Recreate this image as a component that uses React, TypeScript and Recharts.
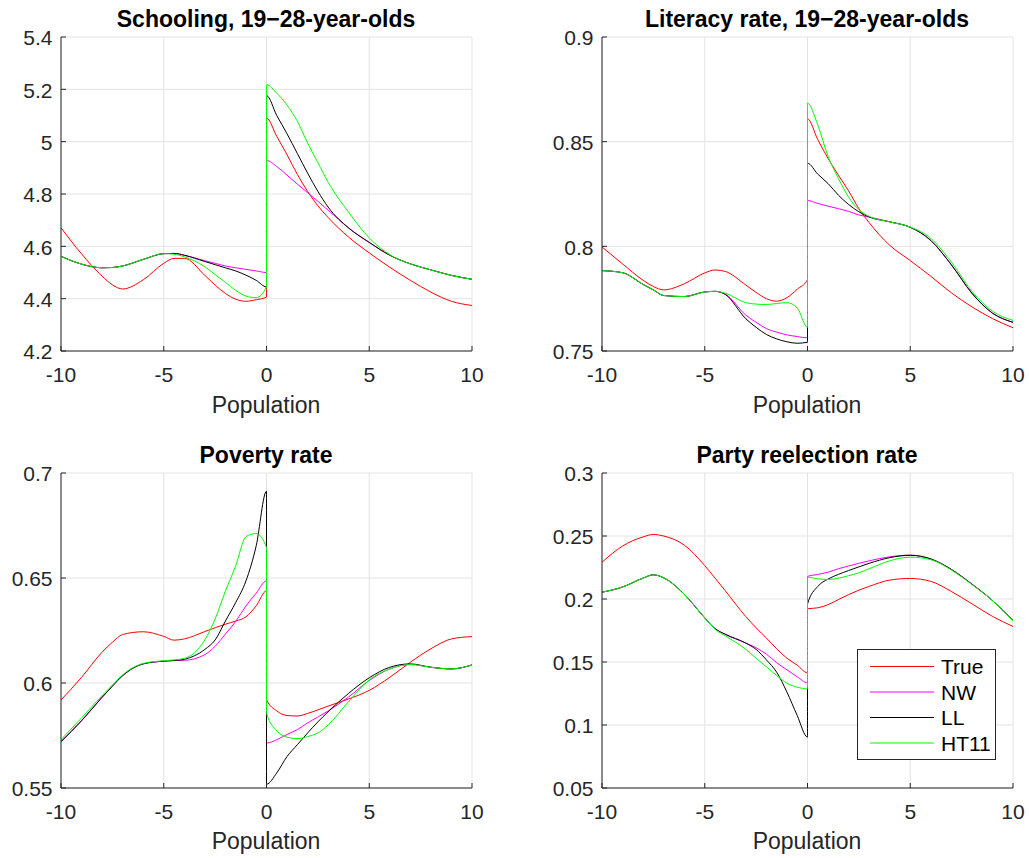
import React from 'react';
import { LineChart, Line, XAxis, YAxis, CartesianGrid, Legend } from 'recharts';

const FONT = '"Liberation Sans", Arial, Helvetica, sans-serif';
const AXIS_COLOR = '#262626';
const GRID_COLOR = '#e3e3e3';

const xValues = [-10, -9, -8, -7.5, -7, -6, -5, -4.5, -4, -3, -2.5, -2, -1.5, -1, -0.5, 0, 0, 0.5, 1, 1.5, 2, 2.5, 3, 4, 5, 6, 7, 8, 9, 10];
const xTicks = [-10, -5, 0, 5, 10];
const seriesNames = ['True', 'NW', 'LL', 'HT11'];
const seriesColors = ['#ff0000', '#ff00ff', '#000000', '#00ff00'];

// Schooling, 19-28-year-olds
const schoolingTicks = [4.2, 4.4, 4.6, 4.8, 5, 5.2, 5.4];
const schoolingTrue = [4.671, 4.571, 4.486, 4.453, 4.437, 4.472, 4.535, 4.554, 4.554, 4.489, 4.452, 4.42, 4.398, 4.39, 4.396, 4.406, 5.09, 5.02, 4.95, 4.875, 4.81, 4.755, 4.71, 4.635, 4.575, 4.52, 4.47, 4.425, 4.39, 4.374];
const schoolingNW = [4.562, 4.532, 4.518, 4.519, 4.525, 4.55, 4.572, 4.573, 4.566, 4.545, 4.535, 4.525, 4.518, 4.512, 4.506, 4.5, 4.928, 4.905, 4.872, 4.838, 4.805, 4.772, 4.738, 4.67, 4.615, 4.566, 4.533, 4.51, 4.489, 4.474];
const schoolingLL = [4.562, 4.532, 4.518, 4.519, 4.525, 4.55, 4.572, 4.573, 4.566, 4.542, 4.53, 4.518, 4.506, 4.49, 4.47, 4.445, 5.176, 5.1, 5.03, 4.955, 4.88, 4.81, 4.75, 4.67, 4.615, 4.566, 4.533, 4.51, 4.489, 4.474];
const schoolingHT11 = [4.562, 4.532, 4.518, 4.519, 4.525, 4.55, 4.572, 4.57, 4.56, 4.522, 4.492, 4.462, 4.432, 4.41, 4.404, 4.445, 5.218, 5.185, 5.14, 5.078, 4.995, 4.92, 4.845, 4.73, 4.632, 4.568, 4.533, 4.51, 4.489, 4.474];

// Literacy rate, 19-28-year-olds
const literacyTicks = [0.75, 0.8, 0.85, 0.9];
const literacyTrue = [0.7997, 0.7916, 0.7838, 0.7808, 0.7792, 0.7821, 0.7873, 0.7887, 0.788, 0.7815, 0.778, 0.775, 0.7738, 0.7755, 0.7795, 0.784, 0.8609, 0.851, 0.842, 0.834, 0.8265, 0.818, 0.8113, 0.8005, 0.7932, 0.7857, 0.7778, 0.7711, 0.7655, 0.7611];
const literacyNW = [0.7884, 0.7874, 0.7818, 0.7792, 0.7765, 0.776, 0.7782, 0.7785, 0.7772, 0.7671, 0.7637, 0.7607, 0.759, 0.7577, 0.7569, 0.7563, 0.8219, 0.8205, 0.8192, 0.818, 0.8167, 0.815, 0.814, 0.8117, 0.8091, 0.8028, 0.7912, 0.7776, 0.7681, 0.7637];
const literacyLL = [0.7884, 0.7874, 0.7818, 0.7792, 0.7765, 0.776, 0.7782, 0.7785, 0.777, 0.7654, 0.7613, 0.7579, 0.7558, 0.7544, 0.7537, 0.7542, 0.8397, 0.8345, 0.83, 0.8245, 0.82, 0.8165, 0.814, 0.8117, 0.8091, 0.8028, 0.7912, 0.7776, 0.7681, 0.7637];
const literacyHT11 = [0.7884, 0.7874, 0.7818, 0.7792, 0.7765, 0.776, 0.7782, 0.7785, 0.7776, 0.7731, 0.7724, 0.7722, 0.7727, 0.7731, 0.7706, 0.7613, 0.8684, 0.858, 0.843, 0.8325, 0.8235, 0.8175, 0.8143, 0.8117, 0.8092, 0.8038, 0.7925, 0.7785, 0.769, 0.7646];

// Poverty rate
const povertyTicks = [0.55, 0.6, 0.65, 0.7];
const povertyTrue = [0.5919, 0.6027, 0.6147, 0.6194, 0.6231, 0.6244, 0.6222, 0.6204, 0.621, 0.6245, 0.6263, 0.628, 0.6295, 0.6315, 0.6368, 0.6439, 0.5921, 0.5867, 0.5845, 0.5843, 0.5855, 0.5872, 0.589, 0.5924, 0.5965, 0.6027, 0.6099, 0.6163, 0.621, 0.6221];
const povertyNW = [0.5722, 0.5821, 0.5932, 0.5985, 0.6035, 0.6091, 0.6104, 0.6107, 0.6108, 0.6135, 0.6175, 0.6233, 0.6293, 0.6367, 0.6428, 0.6486, 0.5714, 0.573, 0.5755, 0.5778, 0.581, 0.5838, 0.5867, 0.5934, 0.6012, 0.6067, 0.6088, 0.6075, 0.6067, 0.6086];
const povertyLL = [0.572, 0.582, 0.5932, 0.5985, 0.6035, 0.6091, 0.6104, 0.6107, 0.6113, 0.616, 0.6205, 0.6295, 0.6383, 0.6486, 0.6654, 0.6913, 0.5518, 0.5572, 0.565, 0.5706, 0.5762, 0.5815, 0.5863, 0.5951, 0.6025, 0.6075, 0.6091, 0.6075, 0.6067, 0.6086];
const povertyHT11 = [0.573, 0.5834, 0.594, 0.599, 0.6039, 0.6093, 0.6106, 0.611, 0.6117, 0.6205, 0.6305, 0.6437, 0.6558, 0.6697, 0.6712, 0.6645, 0.5857, 0.5772, 0.5742, 0.5735, 0.5745, 0.5762, 0.58, 0.5912, 0.6015, 0.6067, 0.6088, 0.6075, 0.6067, 0.6086];

// Party reelection rate
const partyTicks = [0.05, 0.1, 0.15, 0.2, 0.25, 0.3];
const partyTrue = [0.2292, 0.242, 0.2493, 0.2512, 0.25, 0.2428, 0.2265, 0.2166, 0.2065, 0.186, 0.1771, 0.169, 0.1605, 0.153, 0.1475, 0.1414, 0.1922, 0.193, 0.1955, 0.1995, 0.2035, 0.207, 0.21, 0.215, 0.2163, 0.214, 0.206, 0.1962, 0.1862, 0.1782];
const partyNW = [0.2054, 0.2095, 0.2166, 0.2192, 0.2168, 0.2038, 0.185, 0.1765, 0.172, 0.165, 0.1613, 0.1562, 0.1494, 0.1438, 0.1383, 0.1335, 0.2179, 0.2195, 0.2213, 0.224, 0.2262, 0.2283, 0.2303, 0.2335, 0.2348, 0.2318, 0.2235, 0.2118, 0.1988, 0.1829];
const partyLL = [0.2054, 0.2095, 0.2166, 0.2192, 0.2168, 0.2038, 0.185, 0.1765, 0.172, 0.165, 0.16, 0.1517, 0.1419, 0.1261, 0.1075, 0.0904, 0.196, 0.21, 0.2158, 0.2195, 0.2226, 0.2255, 0.2283, 0.2328, 0.2347, 0.2318, 0.2235, 0.2118, 0.1988, 0.1829];
const partyHT11 = [0.2054, 0.2095, 0.2166, 0.2192, 0.2168, 0.2038, 0.185, 0.176, 0.1708, 0.16, 0.153, 0.1462, 0.1393, 0.1332, 0.13, 0.1287, 0.2173, 0.216, 0.2155, 0.2165, 0.2185, 0.2208, 0.224, 0.2303, 0.2332, 0.2312, 0.223, 0.2115, 0.1988, 0.1826];

type PanelSpec = {
  title: string;
  L: number; R: number; T: number; B: number;
  ticks: number[];
  series: number[][];
  titleY: number;
  labelY: number;
  legend?: boolean;
};

const panels: PanelSpec[] = [
  { title: 'Schooling, 19\u221228-year-olds', L: 60.5, R: 471.5, T: 36.5, B: 350.5, ticks: schoolingTicks, series: [schoolingTrue, schoolingNW, schoolingLL, schoolingHT11], titleY: 27, labelY: 413 },
  { title: 'Literacy rate, 19\u221228-year-olds', L: 601.5, R: 1012.5, T: 36.5, B: 350.5, ticks: literacyTicks, series: [literacyTrue, literacyNW, literacyLL, literacyHT11], titleY: 27, labelY: 413 },
  { title: 'Poverty rate', L: 60.5, R: 471.5, T: 472.5, B: 787.5, ticks: povertyTicks, series: [povertyTrue, povertyNW, povertyLL, povertyHT11], titleY: 463, labelY: 849 },
  { title: 'Party reelection rate', L: 601.5, R: 1012.5, T: 472.5, B: 787.5, ticks: partyTicks, series: [partyTrue, partyNW, partyLL, partyHT11], titleY: 463, labelY: 849, legend: true },
];

const LEGEND_LEFT = 857;
const LEGEND_TOP = 649;

function LegendBox() {
  const rows = [17.5, 43, 68.5, 94];
  return (
    <svg width={139} height={111} style={{ display: 'block' }}>
      <rect x={0.5} y={0.5} width={138} height={110} fill="#ffffff" stroke={AXIS_COLOR} strokeWidth={1} />
      {seriesNames.map((n, i) => (
        <g key={n}>
          <line x1={13} x2={77} y1={rows[i]} y2={rows[i]} stroke={seriesColors[i]} strokeWidth={1} />
          <text x={84} y={rows[i] + 7.5} fontSize={21} fontFamily={FONT} fill="#000">{n}</text>
        </g>
      ))}
    </svg>
  );
}

const LEFT_PAD = 60;
const TOP_PAD = 40;
const RIGHT_PAD = 12;
const BOTTOM_PAD = 60;

function Panel({ p }: { p: PanelSpec }) {
  const W = p.R - p.L + LEFT_PAD + RIGHT_PAD;
  const H = p.B - p.T + TOP_PAD + BOTTOM_PAD;
  const rows = xValues.map((x, i) => {
    const r: Record<string, number> = { x };
    seriesNames.forEach((n, k) => { r[n] = p.series[k][i]; });
    return r;
  });
  const left = p.L - LEFT_PAD;
  const top = p.T - TOP_PAD;
  return (
    <div style={{ position: 'absolute', left, top, width: W, height: H }}>
      <LineChart width={W} height={H} data={rows} margin={{ top: TOP_PAD, right: RIGHT_PAD, bottom: BOTTOM_PAD - 30, left: 0 }}>
        <CartesianGrid stroke={GRID_COLOR} strokeWidth={1} />
        <XAxis
          dataKey="x"
          type="number"
          domain={[-10, 10]}
          ticks={xTicks}
          interval={0}
          allowDataOverflow
          height={30}
          axisLine={{ stroke: AXIS_COLOR, strokeWidth: 1 }}
          tickLine={{ stroke: AXIS_COLOR, strokeWidth: 1 }}
          tickSize={-5}
          tickMargin={21}
          tick={{ fill: AXIS_COLOR, fontSize: 21, fontFamily: FONT }}
          tickFormatter={(v: number) => String(v)}
        />
        <YAxis
          type="number"
          domain={[p.ticks[0], p.ticks[p.ticks.length - 1]]}
          ticks={p.ticks}
          interval={0}
          allowDataOverflow
          width={LEFT_PAD}
          axisLine={{ stroke: AXIS_COLOR, strokeWidth: 1 }}
          tickLine={{ stroke: AXIS_COLOR, strokeWidth: 1 }}
          tickSize={-5}
          tickMargin={13.5}
          tick={{ fill: AXIS_COLOR, fontSize: 21, fontFamily: FONT, dy: 1 }}
          tickFormatter={(v: number) => String(v)}
        />
        {seriesNames.map((n, i) => (
          <Line
            key={n}
            type="monotone"
            dataKey={n}
            stroke={seriesColors[i]}
            strokeWidth={1}
            dot={false}
            activeDot={false}
            isAnimationActive={false}
          />
        ))}
        {p.legend && (
          <Legend
            layout="vertical"
            align="center"
            verticalAlign="middle"
            wrapperStyle={{ left: LEGEND_LEFT - left, top: LEGEND_TOP - top, width: 139, height: 111 }}
            content={() => <LegendBox />}
          />
        )}
      </LineChart>
    </div>
  );
}

export default function App() {
  return (
    <div style={{ position: 'absolute', left: 0, top: 0, width: 1029, height: 858, background: '#ffffff', fontFamily: FONT }}>
      {panels.map((p) => <Panel key={p.title} p={p} />)}
      <svg width={1029} height={858} style={{ position: 'absolute', left: 0, top: 0, pointerEvents: 'none' }}>
        {panels.map((p) => (
          <g key={p.title}>
            <text x={(p.L + p.R) / 2} y={p.titleY} textAnchor="middle" fontSize={23} fontWeight="bold" fontFamily={FONT} fill="#000">{p.title}</text>
            <text x={(p.L + p.R) / 2} y={p.labelY} textAnchor="middle" fontSize={23} fontFamily={FONT} fill={AXIS_COLOR}>Population</text>
          </g>
        ))}
      </svg>
    </div>
  );
}
